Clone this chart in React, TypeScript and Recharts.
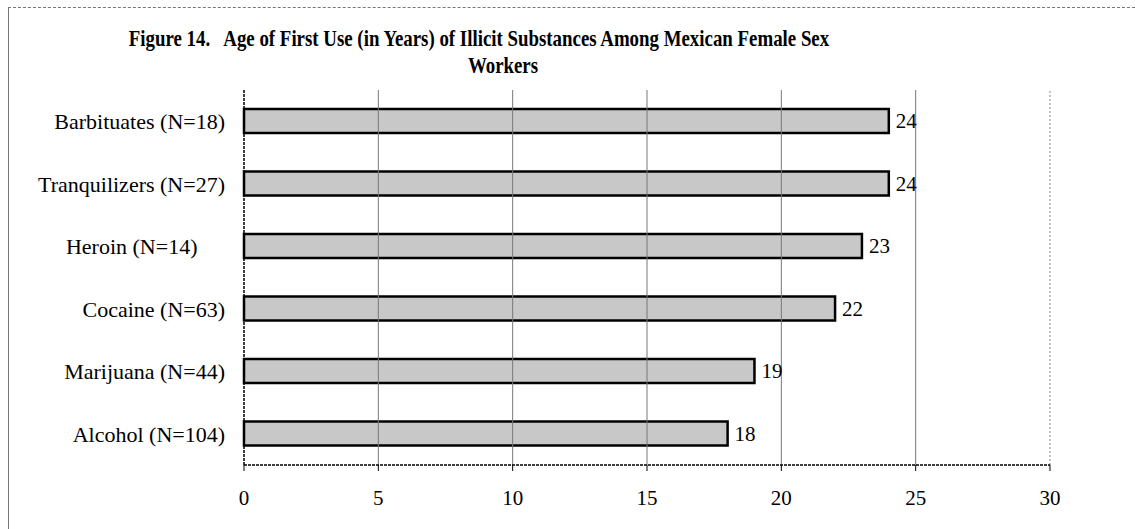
import React from 'react';
import {
  BarChart,
  Bar,
  XAxis,
  YAxis,
  CartesianGrid,
  LabelList,
  ReferenceLine,
} from 'recharts';

const categories = [
  'Barbituates (N=18)',
  'Tranquilizers (N=27)',
  'Heroin (N=14)\u00A0\u00A0\u00A0\u00A0\u00A0',
  'Cocaine (N=63)',
  'Marijuana (N=44)',
  'Alcohol (N=104)',
];
const ages = [24, 24, 23, 22, 19, 18];
const xTicks = [0, 5, 10, 15, 20, 25, 30];

const font = '"Liberation Serif", "Times New Roman", serif';

const titleStyle: React.CSSProperties = {
  position: 'absolute',
  left: 0,
  textAlign: 'center',
  fontWeight: 'bold',
  fontSize: 23,
  lineHeight: '27px',
  whiteSpace: 'pre',
  transform: 'scaleX(0.82)',
};

export default function App() {
  const data = categories.map((name, i) => ({ name, age: ages[i] }));

  return (
    <div style={{ position: 'absolute', left: 0, top: 0, width: 1135, height: 529, fontFamily: font }}>
      <div
        style={{
          position: 'absolute',
          left: 8,
          top: 7,
          width: 1127,
          height: 522,
          borderTop: '1px dashed #777',
          borderLeft: '1px solid #777',
          boxSizing: 'border-box',
        }}
      />
      <div style={{ ...titleStyle, top: 25, width: 958 }}>
        {'Figure 14.   Age of First Use (in Years) of Illicit Substances Among Mexican Female Sex'}
      </div>
      <div style={{ ...titleStyle, top: 52, width: 1006 }}>Workers</div>
      <BarChart
        width={1135}
        height={529}
        data={data}
        layout="vertical"
        margin={{ top: 90, right: 85, left: 0, bottom: 39 }}
        style={{ position: 'absolute', left: 0, top: 0 }}
      >
        <CartesianGrid horizontal={false} vertical={false} />
        {xTicks.slice(1, -1).map((t) => (
          <ReferenceLine key={t} x={t} stroke="#777" strokeWidth={1} />
        ))}
        <ReferenceLine x={30} stroke="#888" strokeDasharray="2 2" strokeWidth={1} />
        <XAxis
          type="number"
          domain={[0, 30]}
          ticks={xTicks}
          height={25}
          tickSize={6}
          tickMargin={19}
          axisLine={{ stroke: '#000', strokeWidth: 1.5, strokeDasharray: '3 1' }}
          tickLine={{ stroke: '#000' }}
          tick={{ fill: '#000', fontSize: 21, fontFamily: font }}
        />
        <XAxis
          xAxisId="top"
          orientation="top"
          type="number"
          domain={[0, 30]}
          height={0}
          tick={false}
          tickLine={false}
          axisLine={{ stroke: '#555', strokeDasharray: '2 1' }}
        />
        <YAxis
          type="category"
          dataKey="name"
          width={244}
          tickSize={6}
          tickMargin={13}
          tickLine={false}
          axisLine={{ stroke: '#000', strokeWidth: 1.5, strokeDasharray: '3 1' }}
          tick={{ fill: '#000', fontSize: 22, fontFamily: font }}
          interval={0}
        />
        <Bar
          dataKey="age"
          fill="#c8c8c8"
          stroke="#000"
          strokeWidth={2.5}
          barSize={24}
          isAnimationActive={false}
        >
          <LabelList
            dataKey="age"
            position="right"
            offset={7}
            fill="#000"
            fontSize={21}
            fontFamily={font}
          />
        </Bar>
      </BarChart>
    </div>
  );
}
